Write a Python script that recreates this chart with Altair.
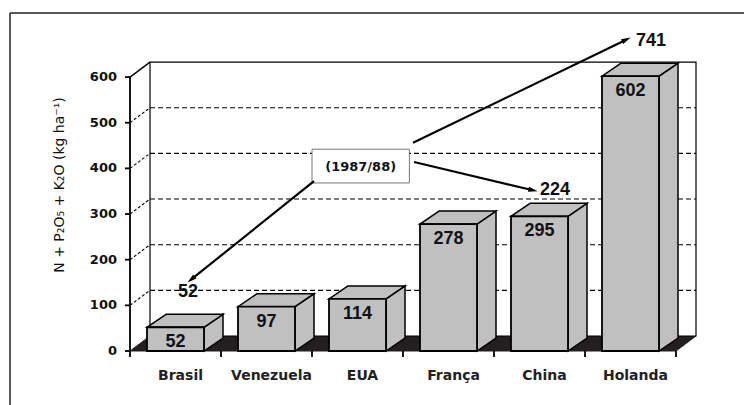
import json
import math

import altair as alt
import pandas as pd

# Consumo de fertilizantes (N + P2O5 + K2O) por país
paises = ["Brasil", "Venezuela", "EUA", "França", "China", "Holanda"]
consumo = [52, 97, 114, 278, 295, 602]

# Valores de 1987/88 apontados pelas setas
ref_paises = ["Brasil", "China", "Holanda"]
ref_valores = [52, 224, 741]
ref_rotulo = "(1987/88)"

y_ticks = [0, 100, 200, 300, 400, 500, 600]
y_titulo = "N + P₂O₅ + K₂O (kg ha⁻¹)"

# ---- geometry of the pseudo-3D box (plot-area pixels -> data units) ----
W, H = 570, 331
BAND_PX = 91
XMAX = W / BAND_PX
YMAX = 725


def ux(px):
    return px * XMAX / W


def uy(px):
    return px * YMAX / H


N = len(paises)
BAR_HALF = ux(28.5)
BAR_DX, BAR_DY = ux(19), uy(13)
WALL_DX, WALL_DY = ux(20), uy(15)
TOP = y_ticks[-1]

GRAY = "#c0c0c0"
DARK = "#231f20"
FONT_AX = "DejaVu Sans"
FONT_NUM = "Liberation Sans"

xs = alt.Scale(domain=[0, XMAX], nice=False, zero=False)
ys = alt.Scale(domain=[0, YMAX], nice=False, zero=False)


def X(f):
    return alt.X(f, type="quantitative", scale=xs, axis=None)


def Y(f):
    return alt.Y(f, type="quantitative", scale=ys, axis=None)


centros = [i + 0.5 for i in range(N)]

# ---- outer frame ----
one = pd.DataFrame({"k": [0]})
frame_top = alt.Chart(one).mark_rule(color="#222", strokeWidth=1.5).encode(
    x=alt.value(-120), x2=alt.value(640), y=alt.value(-7)
)
frame_left = alt.Chart(one).mark_rule(color="#222", strokeWidth=1.5).encode(
    x=alt.value(-120), y=alt.value(-7), y2=alt.value(420)
)

# ---- floor ----
floor_df = pd.DataFrame({
    "fy": [0, WALL_DY],
    "fx": [0, WALL_DX],
    "fx2": [N, N + WALL_DX],
})
floor = alt.Chart(floor_df).mark_area(orient="horizontal", fill=DARK, stroke=DARK, strokeWidth=1).encode(
    y=Y("fy"), x=X("fx"), x2="fx2"
)

# ---- back wall with dashed gridlines ----
wall_df = pd.DataFrame({"wx": [WALL_DX], "wx2": [N + WALL_DX], "wy": [WALL_DY], "wy2": [TOP + WALL_DY]})
wall = alt.Chart(wall_df).mark_rect(fill="white", stroke="black", strokeWidth=1.2).encode(
    x=X("wx"), x2="wx2", y=Y("wy"), y2="wy2"
)

grid_vals = y_ticks[1:-1]
grid_df = pd.DataFrame({
    "gx": [WALL_DX] * len(grid_vals),
    "gx2": [N + WALL_DX] * len(grid_vals),
    "gy": [v + WALL_DY for v in grid_vals],
})
grid = alt.Chart(grid_df).mark_rule(color="black", strokeWidth=1.1, strokeDash=[5, 3]).encode(
    x=X("gx"), x2="gx2", y=Y("gy")
)

diag_df = pd.DataFrame({
    "dx": [0.0] * len(grid_vals),
    "dx2": [WALL_DX] * len(grid_vals),
    "dy": grid_vals,
    "dy2": [v + WALL_DY for v in grid_vals],
})
diag = alt.Chart(diag_df).mark_rule(color="black", strokeWidth=1.1, strokeDash=[3, 2]).encode(
    x=X("dx"), x2="dx2", y=Y("dy"), y2="dy2"
)
diag_top = alt.Chart(pd.DataFrame({"dx": [0.0], "dx2": [WALL_DX], "dy": [TOP], "dy2": [TOP + WALL_DY]})).mark_rule(
    color="black", strokeWidth=1.4
).encode(x=X("dx"), x2="dx2", y=Y("dy"), y2="dy2")

# ---- value axis: line, ticks, labels, title ----
y_line = alt.Chart(pd.DataFrame({"ax": [0.0], "ay": [0], "ay2": [TOP]})).mark_rule(
    color="black", strokeWidth=1.8
).encode(x=X("ax"), y=Y("ay"), y2="ay2")

ytick_df = pd.DataFrame({"v": y_ticks, "t0": 0.0, "t1": -ux(5)})
y_tickmarks = alt.Chart(ytick_df).mark_rule(color="black", strokeWidth=1.8).encode(
    x=X("t1"), x2="t0", y=Y("v")
)
y_labels = alt.Chart(ytick_df).mark_text(
    font=FONT_AX, fontWeight="bold", fontSize=13, color="#111", align="right", baseline="middle", dx=-13
).encode(x=X("t0"), y=Y("v"), text="v:Q")

y_title = alt.Chart(pd.DataFrame({"t": [y_titulo]})).mark_text(
    font=FONT_AX, fontSize=14, color="#111", angle=270, align="center", baseline="middle"
).encode(x=alt.value(-70), y=alt.value(165), text="t:N")

# ---- category axis ----
x_ticks = alt.Chart(pd.DataFrame({"tx": list(range(N + 1)), "ty": 0, "ty2": -uy(6)})).mark_rule(
    color="black", strokeWidth=1.8
).encode(x=X("tx"), y=Y("ty"), y2="ty2")

cat_df = pd.DataFrame({"pais": paises, "cx": [c + ux(5) for c in centros], "cy": 0})
x_labels = alt.Chart(cat_df).mark_text(
    font=FONT_AX, fontWeight="bold", fontSize=14, color="#222", baseline="middle", dy=25
).encode(x=X("cx"), y=Y("cy"), text="pais:N")

# ---- 3D bars ----
front_df = pd.DataFrame({
    "pais": paises,
    "bx": [c - BAR_HALF for c in centros],
    "bx2": [c + BAR_HALF for c in centros],
    "cx": centros,
    "by": [0] * N,
    "valor": consumo,
})

side_rows, top_rows = [], []
for p, c, v in zip(paises, centros, consumo):
    side_rows.append({"pais": p, "sx": c + BAR_HALF, "lo": 0, "hi": v})
    side_rows.append({"pais": p, "sx": c + BAR_HALF + BAR_DX, "lo": BAR_DY, "hi": v + BAR_DY})
    top_rows.append({"pais": p, "ty": v, "xa": c - BAR_HALF, "xb": c + BAR_HALF})
    top_rows.append({"pais": p, "ty": v + BAR_DY, "xa": c - BAR_HALF + BAR_DX, "xb": c + BAR_HALF + BAR_DX})

sides = alt.Chart(pd.DataFrame(side_rows)).mark_area(
    fill=GRAY, stroke="black", strokeWidth=1.5, strokeJoin="miter"
).encode(x=X("sx"), y=Y("lo"), y2="hi", detail="pais:N")

tops = alt.Chart(pd.DataFrame(top_rows)).mark_area(
    orient="horizontal", fill=GRAY, stroke="black", strokeWidth=1.5, strokeJoin="miter"
).encode(y=Y("ty"), x=X("xa"), x2="xb", detail="pais:N")

fronts = alt.Chart(front_df).mark_rect(fill=GRAY, stroke="black", strokeWidth=1.8).encode(
    x=X("bx"), x2="bx2", y=Y("by"), y2="valor"
)

bar_labels = alt.Chart(front_df).mark_text(
    font=FONT_NUM, fontWeight="bold", fontSize=18, color="#111", baseline="middle", dy=15
).encode(x=X("cx"), y=Y("valor"), text="valor:Q")

# ---- 1987/88 annotation ----
box_df = pd.DataFrame({"x": [2.0], "x2": [3.07], "y": [368], "y2": [442]})
box = alt.Chart(box_df).mark_rect(fill="white", stroke="#777", strokeWidth=1).encode(
    x=X("x"), x2="x2", y=Y("y"), y2="y2"
)
box_text = alt.Chart(pd.DataFrame({"x": [2.535], "y": [404], "t": [ref_rotulo]})).mark_text(
    font=FONT_AX, fontWeight="bold", fontSize=13, color="#111", baseline="middle"
).encode(x=X("x"), y=Y("y"), text="t:N")

# arrow start (box side) and tip, in data units
arrow_start = [(2.022, 372), (3.121, 414), (3.110, 456)]
arrow_tip = [(0.637, 151), (4.473, 350), (5.495, 686)]
ref_label_pos = [(0.637, 129), (4.670, 352), (5.725, 679)]

HEAD = 9  # arrowhead length in px
a_rows, h_rows = [], []
for (x1, y1), (x2, y2) in zip(arrow_start, arrow_tip):
    dxp = (x2 - x1) * W / XMAX
    dyp = -(y2 - y1) * H / YMAX
    L = math.hypot(dxp, dyp)
    ex, ey = dxp / L, dyp / L
    ang = math.degrees(math.atan2(ex, -ey)) % 360
    back = HEAD * 0.6
    a_rows.append({"x": x1, "y": y1, "x2": x2 - ux(ex * back), "y2": y2 + uy(ey * back)})
    h_rows.append({"x": x2 - ux(ex * HEAD * 0.45), "y": y2 + uy(ey * HEAD * 0.45), "ang": ang})

arrows = alt.Chart(pd.DataFrame(a_rows)).mark_rule(color="black", strokeWidth=2.2).encode(
    x=X("x"), x2="x2", y=Y("y"), y2="y2"
)
heads = alt.Chart(pd.DataFrame(h_rows)).mark_point(
    shape="M0,-1L0.55,1L-0.55,1Z", filled=True, color="black", opacity=1, size=90
).encode(x=X("x"), y=Y("y"), angle=alt.Angle("ang:Q", scale=None))

ref_df = pd.DataFrame({
    "pais": ref_paises,
    "valor": ref_valores,
    "x": [p[0] for p in ref_label_pos],
    "y": [p[1] for p in ref_label_pos],
})
ref_labels = alt.Chart(ref_df).mark_text(
    font=FONT_NUM, fontWeight="bold", fontSize=18, color="#111", baseline="middle"
).encode(x=X("x"), y=Y("y"), text="valor:Q")

chart = alt.layer(
    frame_top, frame_left,
    floor, wall, grid, diag, diag_top,
    y_line, y_tickmarks, y_labels, y_title,
    x_ticks, x_labels,
    sides, tops, fronts, bar_labels,
    box, box_text, arrows, heads, ref_labels,
).properties(
    width=W, height=H,
    autosize=alt.AutoSizeParams(type="none"),
    padding={"left": 130, "top": 20, "right": 44, "bottom": 54},
    background="white",
).configure_view(stroke=None)

chart.save("out.html", embed_options={"renderer": "svg", "actions": False})
